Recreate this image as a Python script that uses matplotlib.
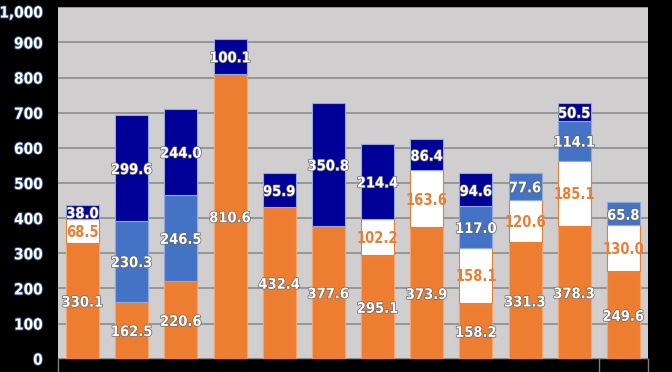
import numpy as np
import matplotlib
matplotlib.use("Agg")
import matplotlib.pyplot as plt
import matplotlib.patheffects as pe
import matplotlib.transforms as mtransforms

# stacked segments, bottom to top (0 = segment absent)
seg_orange = [330.1, 162.5, 220.6, 810.6, 432.4, 377.6, 295.1, 373.9, 158.2, 331.3, 378.3, 249.6]
seg_white = [68.5, 0, 0, 0, 0, 0, 102.2, 163.6, 158.1, 120.6, 185.1, 130.0]
seg_blue = [0, 230.3, 246.5, 0, 0, 0, 0, 0, 117.0, 77.6, 114.1, 65.8]
seg_navy = [38.0, 299.6, 244.0, 100.1, 95.9, 350.8, 214.4, 86.4, 94.6, 0, 50.5, 0]
y_ticks = [0, 100, 200, 300, 400, 500, 600, 700, 800, 900, 1000]

plt.rcParams['font.family'] = ['DejaVu Sans']
plt.rcParams['font.stretch'] = 'condensed'

fig = plt.figure(figsize=(6.72, 3.72), dpi=100, facecolor='black')
ax = fig.add_axes([0.0863, 0.0358, 0.878, 0.9446])
ax.set_facecolor('#D0CECE')

n = len(seg_orange)
x = np.arange(n)
width = 0.67

segments = [
    (seg_orange, '#ED7D31', '#F4A46C', 'white'),
    (seg_white, 'white', '#ED7D31', '#ED7D31'),
    (seg_blue, '#4472C4', '#8FAADC', 'white'),
    (seg_navy, '#000099', '#8FAADC', 'white'),
]

bottom = np.zeros(n)
for vals, fc, ec, tc in segments:
    vals = np.array(vals, dtype=float)
    ax.bar(x, vals, width, bottom=bottom, color=fc, edgecolor=ec, linewidth=0.8, zorder=3)
    for xi, b, v in zip(x, bottom, vals):
        if v > 0:
            t = ax.text(xi, b + v / 2, f"{v:.1f}", ha='center', va='center_baseline',
                        color=tc, fontsize=10.5, fontweight='bold',
                        fontstretch='condensed', zorder=4)
            if tc == 'white':
                t.set_path_effects([pe.withStroke(linewidth=1.0, foreground='#666666')])
    bottom += vals

ax.set_xlim(-0.5, n - 0.5)
ax.set_ylim(0, 1000)
ax.set_yticks(y_ticks)
ax.set_yticklabels([])
ax.yaxis.grid(True, color='#8C8C8C', linewidth=1.2, zorder=0)
ax.set_axisbelow(True)
ax.set_xticks([])
ax.tick_params(axis='y', length=0)
for s in ['top', 'right', 'left']:
    ax.spines[s].set_visible(False)
ax.spines['bottom'].set_color('#222222')

# y labels drawn by hand so the top one stays inside the figure
trans = mtransforms.blended_transform_factory(ax.transAxes, ax.transData)
for v in y_ticks:
    yv = min(v, 988)
    t = ax.text(-0.026, yv, f"{v:,}", transform=trans, ha='right', va='center_baseline',
                color='white', fontsize=11, fontweight='bold', fontstretch='condensed',
                clip_on=False)
    t.set_path_effects([pe.withStroke(linewidth=1.3, foreground='#2F4F7F')])

# category group separators below the axis
for xs in [-0.5, n - 1.5, n - 0.5]:
    ax.plot([xs, xs], [0, -40], color='#808080', linewidth=1, clip_on=False, zorder=5)

fig.savefig('out.png', dpi=100, facecolor='black')
